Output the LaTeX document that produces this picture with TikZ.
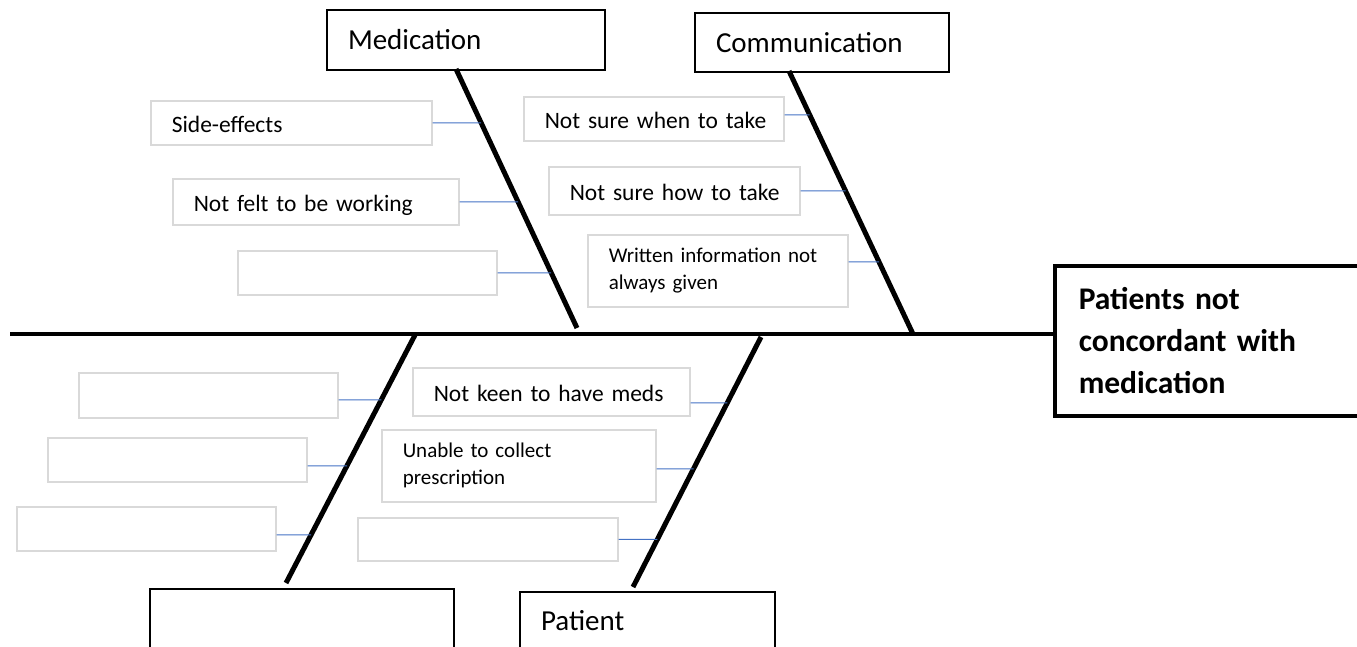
\documentclass[tikz,border=0pt]{standalone}
\usepackage{fontspec}
\setmainfont{Carlito}
\usepackage{tikz}
\usetikzlibrary{calc}
\definecolor{boxgray}{RGB}{217,217,217}
\definecolor{twigblue}{RGB}{68,114,196}

\begin{document}
\begin{tikzpicture}[x=1pt, y=-1pt,
    category/.style={draw, line width=2pt, anchor=north west, align=left, inner xsep=21pt, inner ysep=0pt, font=\fontsize{29}{35}\selectfont},
    head/.style={draw, line width=3.5pt, anchor=north west, align=left, inner xsep=24pt, inner ysep=0pt, font=\bfseries\fontsize{31.5}{42}\selectfont},
    cause/.style={draw=boxgray, line width=1.5pt, anchor=north west, align=left, inner xsep=21pt, inner ysep=0pt, font=\fontsize{23.5}{29}\selectfont, text height=20pt, text depth=0pt},
    smallcause/.style={draw=boxgray, line width=1.5pt, anchor=north west, align=left, inner xsep=21pt, inner ysep=0pt, font=\fontsize{21}{27}\selectfont},
    spine/.style={line width=4.5pt},
    bone/.style={line width=5pt},
    twig/.style={twigblue, line width=1pt}]
    \useasboundingbox (0,0) rectangle (1357,646);

    % effect and categories
    \node[head, text width=269pt, minimum height=150pt] (head) at (1053,264) {Patients not\\concordant with\\medication};
    \node[category, text width=236pt, minimum height=60pt] (med) at (326,9) {Medication};
    \node[category, text width=212pt, minimum height=59pt] (com) at (694,12) {Communication};
    \node[category, text width=262pt, minimum height=60pt] (blk) at (149,588) {};
    \node[category, text width=213pt, minimum height=58pt] (pat) at (519,591) {Patient};

    % causes
    \node[cause, text width=239pt, minimum height=44pt] (m1) at (150,100) {Side-effects};
    \node[cause, text width=244pt, minimum height=46pt] (m2) at (172,178) {Not felt to be working};
    \node[cause, text width=217pt, minimum height=44pt] (m3) at (237,250) {};
    \node[cause, text width=218pt, minimum height=44pt] (c1) at (523,96) {\mbox{Not sure when to take}};
    \node[cause, text width=209pt, minimum height=48pt] (c2) at (548,166) {\mbox{Not sure how to take}};
    \node[smallcause, text width=218pt, minimum height=72pt] (c3) at (587,234) {Written information not\\always given};
    \node[cause, text width=217pt, minimum height=45pt] (l1) at (78,372) {};
    \node[cause, text width=217pt, minimum height=44pt] (l2) at (47,437) {};
    \node[cause, text width=217pt, minimum height=44pt] (l3) at (16,506) {};
    \node[cause, text width=235pt, minimum height=48pt] (p1) at (412,367) {Not keen to have meds};
    \node[smallcause, text width=232pt, minimum height=72pt] (p2) at (381,429) {Unable to collect\\prescription};
    \node[cause, text width=218pt, minimum height=43pt] (p3) at (357,517) {};

    % bones
    \coordinate (tail) at (10,334);
    \coordinate (med-top) at (456,69);
    \coordinate (med-bot) at (577,328);
    \coordinate (com-top) at (789,71);
    \coordinate (com-bot) at (913,334);
    \coordinate (blk-top) at (415,335);
    \coordinate (blk-bot) at (286,583);
    \coordinate (pat-top) at (761,337);
    \coordinate (pat-bot) at (633,587);

    \draw[spine] (tail) -- (tail -| head.west);
    \foreach \bn in {med, com, blk, pat}
        \draw[bone] (\bn-top) -- (\bn-bot);

    % twigs
    \foreach \c/\bn/\s in {m1/med/0pt, m2/med/0pt, m3/med/0pt, c1/com/4pt, c2/com/0pt, c3/com/9pt,
                           l1/blk/-4.5pt, l2/blk/-6pt, l3/blk/-6pt, p1/pat/-11pt, p2/pat/-3pt, p3/pat/0pt}
        \draw[twig] ([yshift=\s]\c.east) -- (intersection cs: first line={(\bn-top)--(\bn-bot)},
                                                        second line={([yshift=\s]\c.east)--([yshift=\s]\c.west)});
\end{tikzpicture}
\end{document}
